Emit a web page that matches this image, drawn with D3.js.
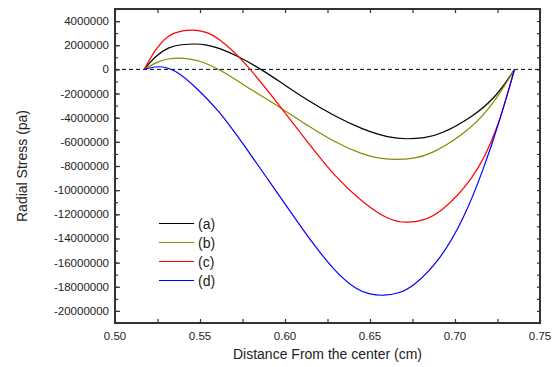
<!DOCTYPE html>
<html>
<head>
<meta charset="utf-8">
<script src="https://cdn.jsdelivr.net/npm/d3@7"></script>
<style>
  body { margin: 0; background: #fff; }
  svg { display: block; }
  text { font-family: "Liberation Sans", Arial, sans-serif; fill: #222; }
</style>
</head>
<body>
<svg width="557" height="367"></svg>
<script>

// series (x in cm, radial stress in pa)
let seriesA = [[0.5172,0],[0.5235,1.08e6],[0.5314,1.86e6],[0.5392,2.06e6],[0.5471,2.13e6],[0.554,2.04e6],
    [0.5608,1.8e6],[0.5725,1.08e6],[0.5863,0],[0.6,-1.32e6],[0.6137,-2.6e6],[0.6294,-3.9e6],[0.6461,-5.0e6],
    [0.661,-5.65e6],[0.6716,-5.78e6],[0.682,-5.68e6],[0.6912,-5.42e6],[0.7108,-3.9e6],[0.7245,-2.24e6],[0.735,0]];
let seriesB = [[0.5172,0],[0.5255,0.68e6],[0.5314,0.88e6],[0.5373,0.95e6],[0.544,0.88e6],[0.551,0.66e6],
    [0.5618,0],[0.5765,-1.38e6],[0.598,-3.2e6],[0.6137,-4.7e6],[0.6294,-6.05e6],[0.6461,-7.08e6],
    [0.6557,-7.38e6],[0.6657,-7.49e6],[0.6757,-7.38e6],[0.6853,-7.08e6],[0.7049,-5.42e6],[0.7206,-3.34e6],[0.735,0]];
let seriesC = [[0.5172,0],[0.5235,1.63e6],[0.5314,2.88e6],[0.5392,3.2e6],[0.5461,3.29e6],[0.5535,3.12e6],
    [0.5608,2.6e6],[0.5745,0.95e6],[0.598,-3.2e6],[0.6137,-6.11e6],[0.6294,-8.9e6],[0.6461,-11.09e6],
    [0.6612,-12.5e6],[0.6716,-12.72e6],[0.6812,-12.54e6],[0.6912,-11.92e6],[0.7108,-9.15e6],[0.7245,-5.28e6],[0.735,0]];
let seriesD = [[0.5172,0],[0.5255,0.33e6],[0.5353,0.0e6],[0.5471,-1.41e6],[0.5608,-3.34e6],[0.5765,-6.39e6],
    [0.5902,-9.15e6],[0.6039,-11.92e6],[0.6157,-14.3e6],[0.6294,-16.75e6],[0.6422,-18.28e6],[0.65,-18.63e6],
    [0.6578,-18.75e6],[0.6667,-18.56e6],[0.6755,-18.0e6],[0.6912,-15.79e6],[0.7049,-12.47e6],[0.7167,-8.32e6],
    [0.7265,-4.17e6],[0.735,0]];

let names  = ['(a)', '(b)', '(c)', '(d)'];
let colors = ['#000000', '#8a8a00', '#ff0000', '#0000ff'];
let xTicks = [0.50, 0.55, 0.60, 0.65, 0.70, 0.75];
let yTicks = d3.range(-20000000, 4000001, 2000000);

let svg = d3.select('svg');
let mLeft = 115, mRight = 540, mTop = 9, mBottom = 323;

let x = d3.scaleLinear().domain([0.5, 0.75]).range([mLeft, mRight]);
let y = d3.scaleLinear().domain([-21000000, 5000000]).range([mBottom, mTop]);

// zero line
svg.append('line')
    .attr('x1', mLeft).attr('x2', mRight)
    .attr('y1', y(0)).attr('y2', y(0))
    .attr('stroke', '#000').attr('stroke-width', 1)
    .attr('stroke-dasharray', '4,3');

// curves
let line = d3.line()
    .x(d => x(d[0]))
    .y(d => y(d[1]))
    .curve(d3.curveBasis);

[seriesA, seriesB, seriesC, seriesD].forEach(function (s, i) {
    svg.append('path')
        .datum(s)
        .attr('d', line)
        .attr('fill', 'none')
        .attr('stroke', colors[i])
        .attr('stroke-width', 1.2);
});

// axes, ticks pointing inwards
let minorX = d3.range(0.5, 0.7501, 0.025);
let minorY = d3.range(-21000000, 5000001, 1000000);

svg.append('g').attr('transform', 'translate(0,' + mBottom + ')')
    .call(d3.axisBottom(x).tickValues(minorX).tickSize(-4).tickFormat(''));
svg.append('g').attr('transform', 'translate(0,' + mTop + ')')
    .call(d3.axisTop(x).tickValues(minorX).tickSize(-4).tickFormat(''));
svg.append('g').attr('transform', 'translate(' + mLeft + ',0)')
    .call(d3.axisLeft(y).tickValues(minorY).tickSize(-3).tickFormat(''));
svg.append('g').attr('transform', 'translate(' + mLeft + ',0)')
    .call(d3.axisLeft(y).tickValues(yTicks.concat([4000000])).tickSize(-5).tickFormat(''));
svg.append('g').attr('transform', 'translate(' + mRight + ',0)')
    .call(d3.axisRight(y).tickValues(minorY).tickSize(-3).tickFormat(''));

svg.selectAll('.domain').remove();
svg.selectAll('.tick line').attr('stroke', '#333').attr('stroke-width', 1.2);

// frame
svg.append('rect')
    .attr('x', mLeft).attr('y', mTop)
    .attr('width', mRight - mLeft).attr('height', mBottom - mTop)
    .attr('fill', 'none').attr('stroke', '#333').attr('stroke-width', 2);

// tick labels
svg.append('g').selectAll('text')
    .data(xTicks)
    .enter().append('text')
    .attr('x', d => x(d))
    .attr('y', mBottom + 17)
    .attr('text-anchor', 'middle')
    .style('font-size', '11.5px')
    .text(d => d3.format('.2f')(d));

svg.append('g').selectAll('text')
    .data(yTicks)
    .enter().append('text')
    .attr('x', mLeft - 6)
    .attr('y', d => y(d) + 4)
    .attr('text-anchor', 'end')
    .style('font-size', '11.5px')
    .text(d => d);

// axis titles
svg.append('text')
    .attr('x', (mLeft + mRight) / 2)
    .attr('y', 359)
    .attr('text-anchor', 'middle')
    .style('font-size', '14px')
    .text('Distance From the center (cm)');

svg.append('text')
    .attr('transform', 'translate(27,' + ((mTop + mBottom) / 2) + ') rotate(-90)')
    .attr('text-anchor', 'middle')
    .style('font-size', '14px')
    .text('Radial Stress (pa)');

// legend
let legend = svg.append('g').selectAll('g')
    .data(names)
    .enter().append('g')
    .attr('transform', (d, i) => 'translate(159,' + (223.5 + i * 19) + ')');

legend.append('line')
    .attr('x1', 0).attr('x2', 35)
    .attr('stroke', (d, i) => colors[i])
    .attr('stroke-width', 1.2);

legend.append('text')
    .attr('x', 39).attr('y', 5)
    .style('font-size', '14px')
    .text(d => d);

</script>
</body>
</html>
